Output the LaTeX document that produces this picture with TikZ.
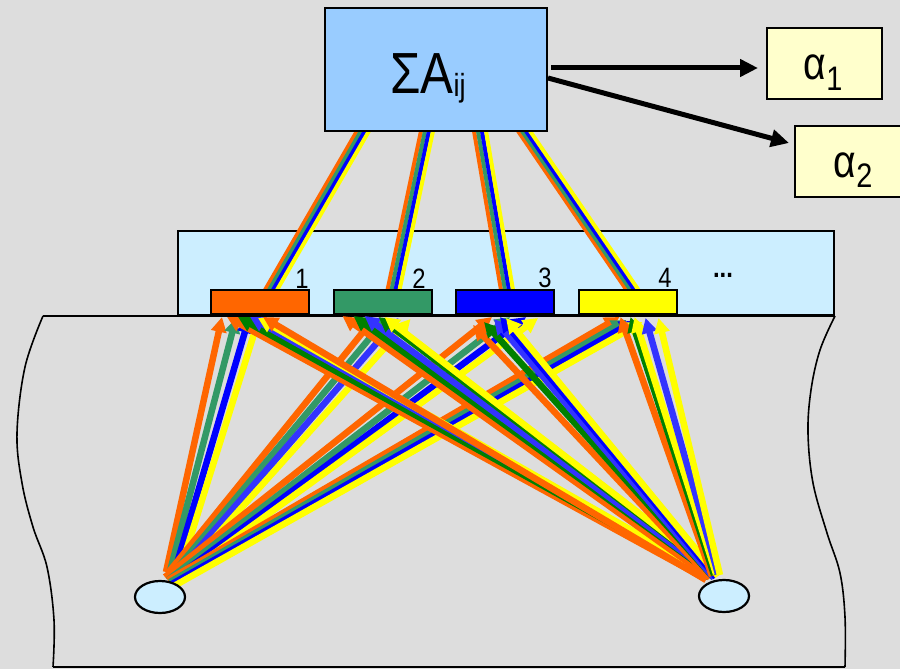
\documentclass[tikz,border=0pt]{standalone}
\usepackage{fontspec}
\setmainfont[FakeStretch=0.85]{Liberation Sans}
\usetikzlibrary{calc,arrows.meta,shapes.geometric}
\definecolor{bgc}{HTML}{DDDDDD}
\definecolor{boxc}{HTML}{99CCFF}
\definecolor{barc}{HTML}{CCEEFF}
\definecolor{alc}{HTML}{FFFFCC}
\definecolor{cOr}{HTML}{FF6600}
\definecolor{cGr}{HTML}{339966}
\definecolor{cDg}{HTML}{008000}
\definecolor{cBl}{HTML}{0000FF}
\definecolor{cLb}{HTML}{3333FF}
\definecolor{cYe}{HTML}{FFFF00}
\pgfdeclarelayer{back}
\pgfdeclarelayer{mid}
\pgfsetlayers{back,mid,main}
\newcommand\bundle[2]{%
  \foreach \cc/\dd in {cOr/-6,cGr/-2,cBl/2,cYe/6}
    \draw[bundleline,\cc] ($(#1)+(\dd,0)$) -- ($(#2)+(\dd,0)$);}
\begin{document}
\begin{tikzpicture}[x=1pt,y=-1pt,
  rect/.style={draw=black,line width=2pt,rectangle,inner sep=0pt,outer sep=0pt},
  sumbox/.style={rect,fill=boxc,minimum width=222pt,minimum height=123pt},
  alphabox/.style={rect,fill=alc,minimum width=115pt,minimum height=71pt},
  barbox/.style={rect,fill=barc,minimum width=656pt,minimum height=84pt},
  sensor/.style={rect,minimum width=98pt,minimum height=24pt},
  well/.style={draw=black,line width=2.2pt,fill=barc,ellipse,inner sep=0pt,outer sep=0pt,minimum width=50pt,minimum height=32pt},
  bundleline/.style={line width=4pt},
  sa/.style={line width=6.5pt,-{Triangle[length=15pt,width=15pt]}},
  blk/.style={line width=5pt,-{Triangle[length=18pt,width=17pt]}},
  numlbl/.style={anchor=base,inner sep=0pt,font=\fontsize{28}{28}\selectfont},
  bigtxt/.style={anchor=base,inner sep=0pt,font=\fontsize{58}{58}\selectfont},
  altxt/.style={anchor=base,inner sep=0pt,font=\fontsize{46}{46}\selectfont}]
\useasboundingbox (0,0) rectangle (900,669);
\begin{pgfonlayer}{back}
\fill[bgc] (0,0) rectangle (900,669);
% body outline
\draw[line width=1.6pt] (43,316) -- (835,316);
\draw[line width=1.6pt] plot[smooth,tension=0.6] coordinates {(43,316) (25,367) (17,433) (22,483) (33,527) (47,567) (54,620) (53,667)};
\draw[line width=1.6pt] plot[smooth,tension=0.6] coordinates {(835,316) (820,350) (811,390) (808,433) (813,483) (827,533) (840,573) (845,617) (845,667)};
\draw[line width=1.6pt] (53,667) -- (845,667);
% sensor bar
\node[barbox] (bar) at (506,273) {};
% boxes
\node[sumbox] (sum) at (436,69.5) {};
\node[sensor,fill=cOr] (s1) at (260,302) {};
\node[sensor,fill=cGr] (s2) at (382.5,302) {};
\node[sensor,fill=cBl] (s3) at (505,302) {};
\node[sensor,fill=cYe] (s4) at (627.5,302) {};
\coordinate (t1) at ($(sum.south west)+(38,0)$);
\coordinate (t2) at ($(sum.south west)+(102,0)$);
\coordinate (t3) at ($(sum.south west)+(155,0)$);
\coordinate (t4) at ($(sum.south west)+(199,0)$);
\coordinate (b1) at ($(s1.north west)+(60,0)$);
\coordinate (b2) at ($(s2.north west)+(60,0)$);
\coordinate (b3) at ($(s3.north west)+(51,0)$);
\coordinate (b4) at ($(s4.north west)+(54,0)$);
\bundle{t1}{b1}
\bundle{t2}{b2}
\bundle{t3}{b3}
\bundle{t4}{b4}
% redraw boxes over bundle ends
\node[sumbox] at (sum) {};
\node[sensor,fill=cOr] at (s1) {};
\node[sensor,fill=cGr] at (s2) {};
\node[sensor,fill=cBl] at (s3) {};
\node[sensor,fill=cYe] at (s4) {};
\node[bigtxt] (sumtxt) at (428,93) {ΣA\raisebox{-3pt}{\fontsize{32}{32}\selectfont ij}};
\node[numlbl] (n1) at (302,288) {1};
\node[numlbl] (n2) at (419,288) {2};
\node[numlbl] (n3) at (545,287) {3};
\node[numlbl] (n4) at (665,287) {4};
\node[numlbl,font=\fontsize{28}{28}\selectfont\bfseries] (dots) at (723,277) {...};
% alpha boxes
\node[alphabox] (a1) at (824.5,63.5) {};
\node[alphabox,minimum width=110pt] (a2) at (850,161.5) {};
\node[altxt] (a1t) at (823,80) {α\raisebox{-10pt}{\fontsize{34}{34}\selectfont 1}};
\node[altxt] (a2t) at (853,177) {α\raisebox{-10pt}{\fontsize{34}{34}\selectfont 2}};
\draw[blk] ($(sum.east)+(4,-1.5)$) -- ($(a1.west)+(-9,4.5)$);
\draw[blk] ($(sum.east)+(1,8.5)$) -- ($(a2.west)+(-6,-18.5)$);
\end{pgfonlayer}
% wells
\node[well] (eL) at (160,597) {};
\node[well] (eR) at (724,596) {};
\begin{pgfonlayer}{mid}
% left well to sensors
\draw[sa,cOr] ($(eL.north)+(6,-9)$) -- ($(s1.south west)+(11,3)$);
\draw[sa,cGr] ($(eL.north)+(9,-6)$) -- ($(s1.south west)+(25,4)$);
\draw[sa,cBl] ($(eL.north)+(13,-4)$) -- ($(s1.south west)+(38,4)$);
\draw[sa,cYe] ($(eL.north)+(17,-1)$) -- ($(s1.south west)+(48,4)$);
\draw[sa,cOr] ($(eL.north)+(8,-8)$) -- ($(s2.south west)+(40,5)$);
\draw[sa,cGr] ($(eL.north)+(10,-4)$) -- ($(s2.south west)+(53,4)$);
\draw[sa,cLb] ($(eL.north)+(12,-2)$) -- ($(s2.south west)+(65,4)$);
\draw[sa,cYe] ($(eL.north)+(15,1)$) -- ($(s2.south west)+(77,5)$);
\draw[sa,cOr] ($(eL.north)+(5,-4)$) -- ($(s3.south west)+(36,3)$);
\draw[sa,cGr] ($(eL.north)+(8,-1)$) -- ($(s3.south west)+(54,3)$);
\draw[sa,cBl] ($(eL.north)+(10,1)$) -- ($(s3.south west)+(70,3)$);
\draw[sa,cYe] ($(eL.north)+(12,3)$) -- ($(s3.south west)+(82,4)$);
\draw[sa,cOr] ($(eL.north)+(8,-1)$) -- ($(s4.south west)+(41,3)$);
\draw[sa,cGr] ($(eL.north)+(10,1)$) -- ($(s4.south west)+(48,6)$);
\draw[sa,cBl] ($(eL.north)+(12,3)$) -- ($(s4.south west)+(56,7)$);
\draw[sa,cYe] ($(eL.north)+(14,5)$) -- ($(s4.south west)+(64,8)$);
% right well to sensors
\draw[sa,cOr] ($(eR.north)+(-20,-2)$) -- ($(s1.south west)+(16,3)$);
\draw[sa,cDg] ($(eR.north)+(-16,-3)$) -- ($(s1.south west)+(27,3)$);
\draw[sa,cLb] ($(eR.north)+(-14,-4)$) -- ($(s1.south west)+(39,3)$);
\draw[sa,cYe] ($(eR.north)+(-12,-4)$) -- ($(s1.south west)+(47,4)$);
\draw[sa,cOr] ($(eR.north)+(-18,0)$) -- ($(s1.south west)+(52,3)$);
\draw[sa,cOr] ($(eR.north)+(-18,-5)$) -- ($(s2.south west)+(9,2)$);
\draw[sa,cDg] ($(eR.north)+(-12,-6)$) -- ($(s2.south west)+(20,2)$);
\draw[sa,cLb] ($(eR.north)+(-10,-5)$) -- ($(s2.south west)+(31,2)$);
\draw[sa,cDg] ($(eR.north)+(-8,-7)$) -- ($(s2.south west)+(45,3)$);
\draw[sa,cYe] ($(eR.north)+(-6,-6)$) -- ($(s2.south west)+(51,3)$);
\draw[sa,cOr] ($(eR.north)+(-14,-2)$) -- ($(s3.south west)+(17,11)$);
\draw[sa,cDg] ($(eR.north)+(-11,-3)$) -- ($(s3.south west)+(28,8)$);
\draw[sa,cLb] ($(eR.north)+(-10,-2)$) -- ($(s3.south west)+(38,5)$);
\draw[sa,cBl] ($(eR.north)+(-8,-3)$) -- ($(s3.south west)+(44,3)$);
\draw[sa,cYe] ($(eR.north)+(-6,-4)$) -- ($(s3.south west)+(50,4)$);
\draw[sa,cOr] ($(eR.north)+(-12,-4)$) -- ($(s4.south west)+(42,3)$);
\draw[sa,cDg] ($(eR.north)+(-10,-5)$) -- ($(s4.south west)+(52,3)$);
\draw[sa,cYe] ($(eR.north)+(-8,-6)$) -- ($(s4.south west)+(56,3)$);
\draw[sa,cLb] ($(eR.north)+(-6,-6)$) -- ($(s4.south west)+(67,4)$);
\draw[sa,cYe] ($(eR.north)+(-4,-5)$) -- ($(s4.south west)+(80,4)$);
\end{pgfonlayer}
\end{tikzpicture}
\end{document}
